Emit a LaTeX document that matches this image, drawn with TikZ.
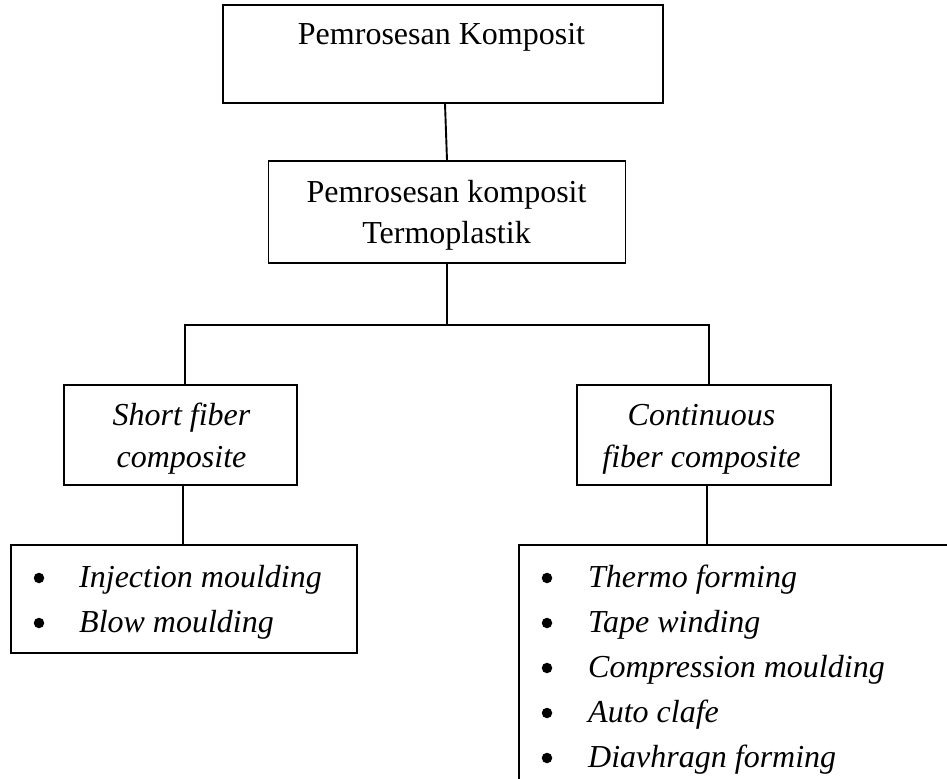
\documentclass[tikz,border=0pt]{standalone}
\usepackage{fontspec}
\setmainfont{Liberation Serif}
\begin{document}
\begin{tikzpicture}[x=1bp,y=-1bp,
  box/.style={draw=black, rectangle, inner sep=0pt, line width=1.9bp},
  conn/.style={draw=black, line width=1.9bp},
  txt/.style={inner sep=0pt, anchor=base, font=\fontsize{32bp}{40bp}\selectfont},
  itxt/.style={inner sep=0pt, anchor=base, font=\fontsize{32bp}{40bp}\selectfont\itshape},
  litem/.style={inner sep=0pt, anchor=base west, font=\fontsize{32bp}{40bp}\selectfont\itshape},
  bul/.style={circle, fill=black, inner sep=0pt, minimum size=10.5bp}
]
\useasboundingbox (0,0) rectangle (947,779);
\clip (0,0) rectangle (947,779);
\fill[white] (0,0) rectangle (947,779);

% boxes
\node[box, minimum width=440bp, minimum height=98bp] (top) at (443,54) {};
\node[box, minimum width=357bp, minimum height=102bp] (mid) at (447,212) {};
\node[box, minimum width=233bp, minimum height=100bp] (left) at (180.5,435) {};
\node[box, minimum width=254bp, minimum height=100bp] (right) at (704,435) {};
\node[box, minimum width=346bp, minimum height=108bp] (bl) at (184,599) {};
\node[box, minimum width=461bp, minimum height=275bp] (br) at (749.5,682.5) {};

% texts
\node[txt] (ttop) at (441.5,45) {Pemrosesan Komposit};
\node[txt] (tmid1) at (446.5,202) {Pemrosesan komposit};
\node[txt] (tmid2) at (446.5,243) {Termoplastik};
\node[itxt] (tl1) at (181.5,425) {Short fiber};
\node[itxt] (tl2) at (181.5,467) {composite};
\node[itxt] (tr1) at (701.5,425) {Continuous};
\node[itxt] (tr2) at (701.5,467) {fiber composite};

% left list
\node[bul] (bl1) at (39,578) {};
\node[litem] (il1) at (79,587) {Injection moulding};
\node[bul] (bl2) at (39,623) {};
\node[litem] (il2) at (79,632) {Blow moulding};

% right list
\node[bul] (br1) at (547,578) {};
\node[litem] (ir1) at (588,587) {Thermo forming};
\node[bul] (br2) at (547,623) {};
\node[litem] (ir2) at (588,632) {Tape winding};
\node[bul] (br3) at (547,668) {};
\node[litem] (ir3) at (588,677) {Compression moulding};
\node[bul] (br4) at (547,713) {};
\node[litem] (ir4) at (588,722) {Auto clafe};
\node[bul] (br5) at (547,758) {};
\node[litem] (ir5) at (588,767) {Diavhragn forming};

% connectors
\coordinate (jl) at (185,325);
\coordinate (jr) at (709,325);
\draw[conn] ([xshift=2bp]top.south) -- (mid.north);
\draw[conn] (mid.south) -- (mid.south |- jl);
\draw[conn] (jl |- left.north) -- (jl) -- (jr) -- (jr |- right.north);
\draw[conn] ([xshift=2.5bp]left.south) -- ([xshift=2.5bp]left.south |- bl.north);
\draw[conn] ([xshift=3bp]right.south) -- ([xshift=3bp]right.south |- br.north);
\end{tikzpicture}
\end{document}
